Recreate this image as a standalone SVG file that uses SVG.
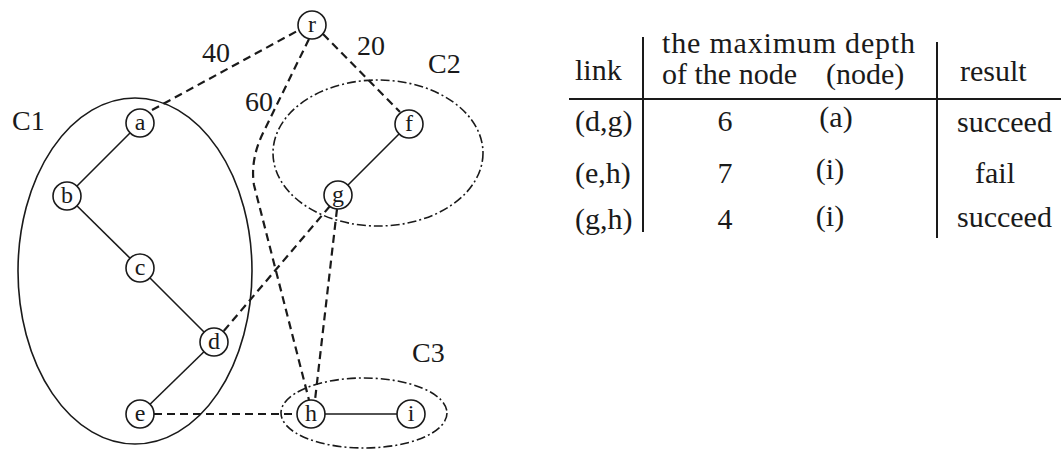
<svg xmlns="http://www.w3.org/2000/svg" width="1061" height="450" viewBox="0 0 1061 450">
<style>
text{font-family:"Liberation Serif","Times New Roman",serif;fill:#1a1a1a}
.lbl{font-size:28px}
.nt{font-size:24px;text-anchor:middle}
.tb{font-size:30px}
.hd{font-size:31px}
.mid{text-anchor:middle}
.node circle{fill:#fff;stroke:#1a1a1a;stroke-width:1.6}
.solid{stroke:#1a1a1a;stroke-width:1.6;fill:none}
.dash{stroke:#1a1a1a;stroke-width:2.2;stroke-dasharray:8 5;fill:none}
.clu{fill:none;stroke:#1a1a1a;stroke-width:1.6}
.dd{stroke-dasharray:9 3 2 3}
.rule{stroke:#1a1a1a;stroke-width:2}
</style>
<rect width="1061" height="450" fill="#fff"/>
<g id="clusters">
<ellipse id="C1" class="clu" cx="135" cy="271" rx="117" ry="173"/>
<ellipse id="C2" class="clu dd" cx="378" cy="153" rx="105" ry="73"/>
<ellipse id="C3" class="clu dd" cx="364" cy="413" rx="83" ry="35"/>
<text class="lbl" x="12" y="130">C1</text>
<text class="lbl" x="428" y="73">C2</text>
<text class="lbl" x="412" y="362">C3</text>
</g>
<g id="connectors">
<line class="solid" x1="140" y1="123" x2="67" y2="196"/>
<line class="solid" x1="67" y1="196" x2="140" y2="268"/>
<line class="solid" x1="140" y1="268" x2="214" y2="342"/>
<line class="solid" x1="214" y1="342" x2="140" y2="414"/>
<line class="solid" x1="409" y1="124" x2="338" y2="195"/>
<line class="solid" x1="311" y1="414" x2="411" y2="414"/>
<line class="dash" x1="152" y1="110" x2="299" y2="30"/>
<line class="dash" x1="323" y1="34" x2="400" y2="112"/>
<path class="dash" d="M309,39 L263,133 Q250,160 254,185 L309,400"/>
<line class="dash" x1="330" y1="206" x2="222" y2="333"/>
<line class="dash" x1="337" y1="209" x2="315" y2="400"/>
<line class="dash" x1="154" y1="414" x2="297" y2="414"/>
<text class="lbl" x="202" y="62">40</text>
<text class="lbl" x="357" y="55">20</text>
<text class="lbl" x="245" y="111">60</text>
</g>
<g id="node-r" class="node"><circle cx="312" cy="25" r="14"/><text class="nt" x="312" y="32">r</text></g>
<g id="node-a" class="node"><circle cx="140" cy="123" r="14"/><text class="nt" x="140" y="130">a</text></g>
<g id="node-b" class="node"><circle cx="67" cy="196" r="14"/><text class="nt" x="67" y="203">b</text></g>
<g id="node-c" class="node"><circle cx="140" cy="268" r="14"/><text class="nt" x="140" y="275">c</text></g>
<g id="node-d" class="node"><circle cx="214" cy="342" r="14"/><text class="nt" x="214" y="349">d</text></g>
<g id="node-e" class="node"><circle cx="140" cy="414" r="14"/><text class="nt" x="140" y="421">e</text></g>
<g id="node-f" class="node"><circle cx="409" cy="124" r="14"/><text class="nt" x="409" y="131">f</text></g>
<g id="node-g" class="node"><circle cx="338" cy="195" r="14"/><text class="nt" x="338" y="202">g</text></g>
<g id="node-h" class="node"><circle cx="311" cy="414" r="14"/><text class="nt" x="311" y="421">h</text></g>
<g id="node-i" class="node"><circle cx="411" cy="414" r="14"/><text class="nt" x="411" y="421">i</text></g>
<g id="table">
<line class="rule" x1="643" y1="37" x2="643" y2="232"/>
<line class="rule" x1="937" y1="42" x2="937" y2="238"/>
<line class="rule" x1="569" y1="99" x2="1061" y2="99"/>
<text class="tb" x="575" y="80">link</text>
<text class="tb" x="662" y="53" textLength="253" lengthAdjust="spacing">the maximum depth</text>
<text class="tb" x="662" y="84">of the node</text>
<text class="tb" x="826" y="84">(node)</text>
<text class="tb" x="960" y="81">result</text>
<text class="tb" x="575" y="131">(d,g)</text>
<text class="tb mid" x="725" y="131">6</text>
<text class="tb mid" x="836" y="127">(a)</text>
<text class="tb" x="957" y="132">succeed</text>
<text class="tb" x="575" y="183">(e,h)</text>
<text class="tb mid" x="725" y="183">7</text>
<text class="tb mid" x="830" y="179">(i)</text>
<text class="tb" x="975" y="183">fail</text>
<text class="tb" x="575" y="229">(g,h)</text>
<text class="tb mid" x="725" y="229">4</text>
<text class="tb mid" x="830" y="226">(i)</text>
<text class="tb" x="957" y="227">succeed</text>
</g>
</svg>
